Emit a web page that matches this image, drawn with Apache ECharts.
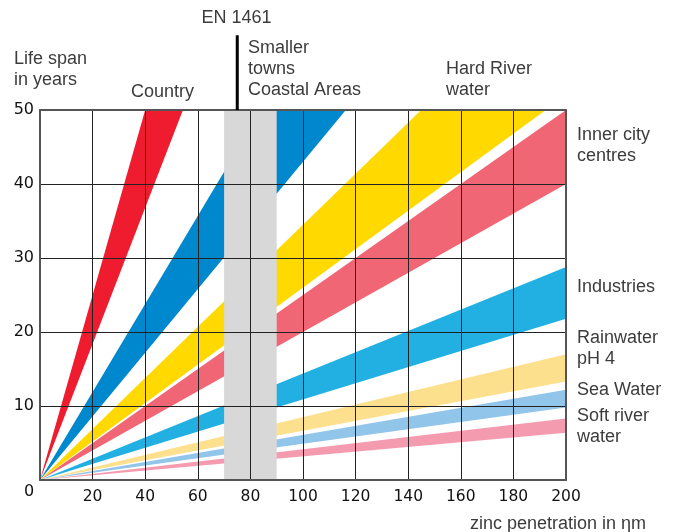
<!DOCTYPE html>
<html>
<head>
<meta charset="utf-8">
<script src="https://cdn.jsdelivr.net/npm/echarts@6/dist/echarts.min.js"></script>
<style>
  html, body { margin: 0; padding: 0; background: #fff; }
  #chart { width: 677px; height: 532px; }
</style>
</head>
<body>
<div id="chart"></div>
<script>
// bands start at the origin; edges given as life span (years) reached at 200 nm
const bandNames = ['Country', 'Smaller towns', 'Hard river water', 'Inner city centres',
  'Industries', 'Rainwater pH 4', 'Sea water', 'Soft river water'];
const bandUpperAt200 = [250, 119, 69, 50, 28.8, 17, 12.2, 8.3];
const bandLowerAt200 = [184, 86, 52, 40, 21.8, 13.3, 9.8, 6.4];
const bandColors = ['#ee1c2e', '#0088cf', '#ffd900', '#f06674', '#22b0e3', '#fde08e', '#92c5ea', '#f49bb0'];

// x ticks / y ticks
const xTicks = [0, 20, 40, 60, 80, 100, 120, 140, 160, 180, 200];
const yTicks = [0, 10, 20, 30, 40, 50];

// grey zone (zinc layer of EN 1461) and marker line
const greyZone = [70, 90];
const en1461 = [75, 50, 60.1];

const FONT = '"Liberation Sans", Arial, sans-serif';
const NUMFONT = '"DejaVu Sans", sans-serif';

const chart = echarts.init(document.getElementById('chart'));

// 文字标签
const label = (text, x, y, align, extra) => ({
  type: 'text',
  x: x,
  y: y - 10.5,
  z: 20,
  style: Object.assign({
    text: text,
    fontFamily: FONT,
    fontSize: 18,
    lineHeight: 21,
    fill: '#3c3c3c',
    align: align || 'left',
    verticalAlign: 'top'
  }, extra || {})
});

const axisCommon = {
  type: 'value',
  z: 5,
  axisTick: { show: false },
  splitLine: { show: true, lineStyle: { color: '#222', width: 1 } },
  axisLine: { show: true, lineStyle: { color: '#555', width: 2 } }
};

const option = {
  animation: false,
  grid: { left: 40, top: 110, width: 526, height: 370 },
  xAxis: [
    Object.assign({}, axisCommon, {
      min: xTicks[0], max: xTicks[xTicks.length - 1], interval: 20,
      axisLabel: {
        margin: 9, fontFamily: NUMFONT, fontSize: 15.5, color: '#111',
        formatter: v => (v === 0 ? '' : v)
      }
    }),
    {
      type: 'value', position: 'top', z: 5,
      min: 0, max: 200,
      axisLine: { show: true, onZero: false, lineStyle: { color: '#555', width: 2 } },
      axisTick: { show: false }, axisLabel: { show: false }, splitLine: { show: false }
    }
  ],
  yAxis: [
    Object.assign({}, axisCommon, {
      min: yTicks[0], max: yTicks[yTicks.length - 1], interval: 10,
      axisLabel: {
        margin: 6, fontFamily: NUMFONT, fontSize: 16, color: '#111',
        formatter: v => (v === 0 ? '' : v)
      }
    }),
    {
      type: 'value', position: 'right', z: 5,
      min: 0, max: 50,
      axisLine: { show: true, onZero: false, lineStyle: { color: '#555', width: 2 } },
      axisTick: { show: false }, axisLabel: { show: false }, splitLine: { show: false }
    }
  ],
  series: [
    {
      name: 'bands',
      type: 'custom',
      z: 2,
      clip: true,
      data: bandNames.map((n, i) => [0, bandUpperAt200[i], bandLowerAt200[i]]),
      renderItem: (params, api) => {
        const pts = [
          api.coord([0, 0]),
          api.coord([200, api.value(1)]),
          api.coord([200, api.value(2)])
        ];
        return {
          type: 'polygon',
          shape: { points: pts },
          style: { fill: bandColors[params.dataIndex] }
        };
      }
    },
    {
      name: 'grey zone',
      type: 'custom',
      z: 3,
      clip: true,
      data: [greyZone],
      renderItem: (params, api) => {
        const p0 = api.coord([api.value(0), 50]);
        const p1 = api.coord([api.value(1), 0]);
        return {
          type: 'rect',
          shape: { x: p0[0], y: p0[1], width: p1[0] - p0[0], height: p1[1] - p0[1] },
          style: { fill: '#d8d8d8' }
        };
      }
    },
    {
      name: 'EN 1461',
      type: 'custom',
      z: 6,
      clip: false,
      data: [en1461],
      renderItem: (params, api) => {
        const a = api.coord([api.value(0), api.value(1)]);
        const b = api.coord([api.value(0), api.value(2)]);
        return {
          type: 'line',
          shape: { x1: a[0], y1: a[1], x2: b[0], y2: b[1] },
          style: { stroke: '#000', lineWidth: 3 }
        };
      }
    }
  ],
  graphic: [
    label('EN 1461', 236.5, 18, 'center'),
    label('Life span\nin years', 14, 59),
    label('Country', 131, 92),
    label('Smaller\ntowns\nCoastal Areas', 248, 48.5),
    label('Hard River\nwater', 446, 69.5),
    label('Inner city\ncentres', 577, 135),
    label('Industries', 577, 287),
    label('Rainwater\npH 4', 577, 338),
    label('Sea Water', 577, 390),
    label('Soft river\nwater', 577, 416),
    label('zinc penetration in ηm', 470, 524),
    label('0', 29, 492, 'center', { fontFamily: NUMFONT, fontSize: 16, fill: '#111' })
  ]
};

chart.setOption(option);
</script>
</body>
</html>
